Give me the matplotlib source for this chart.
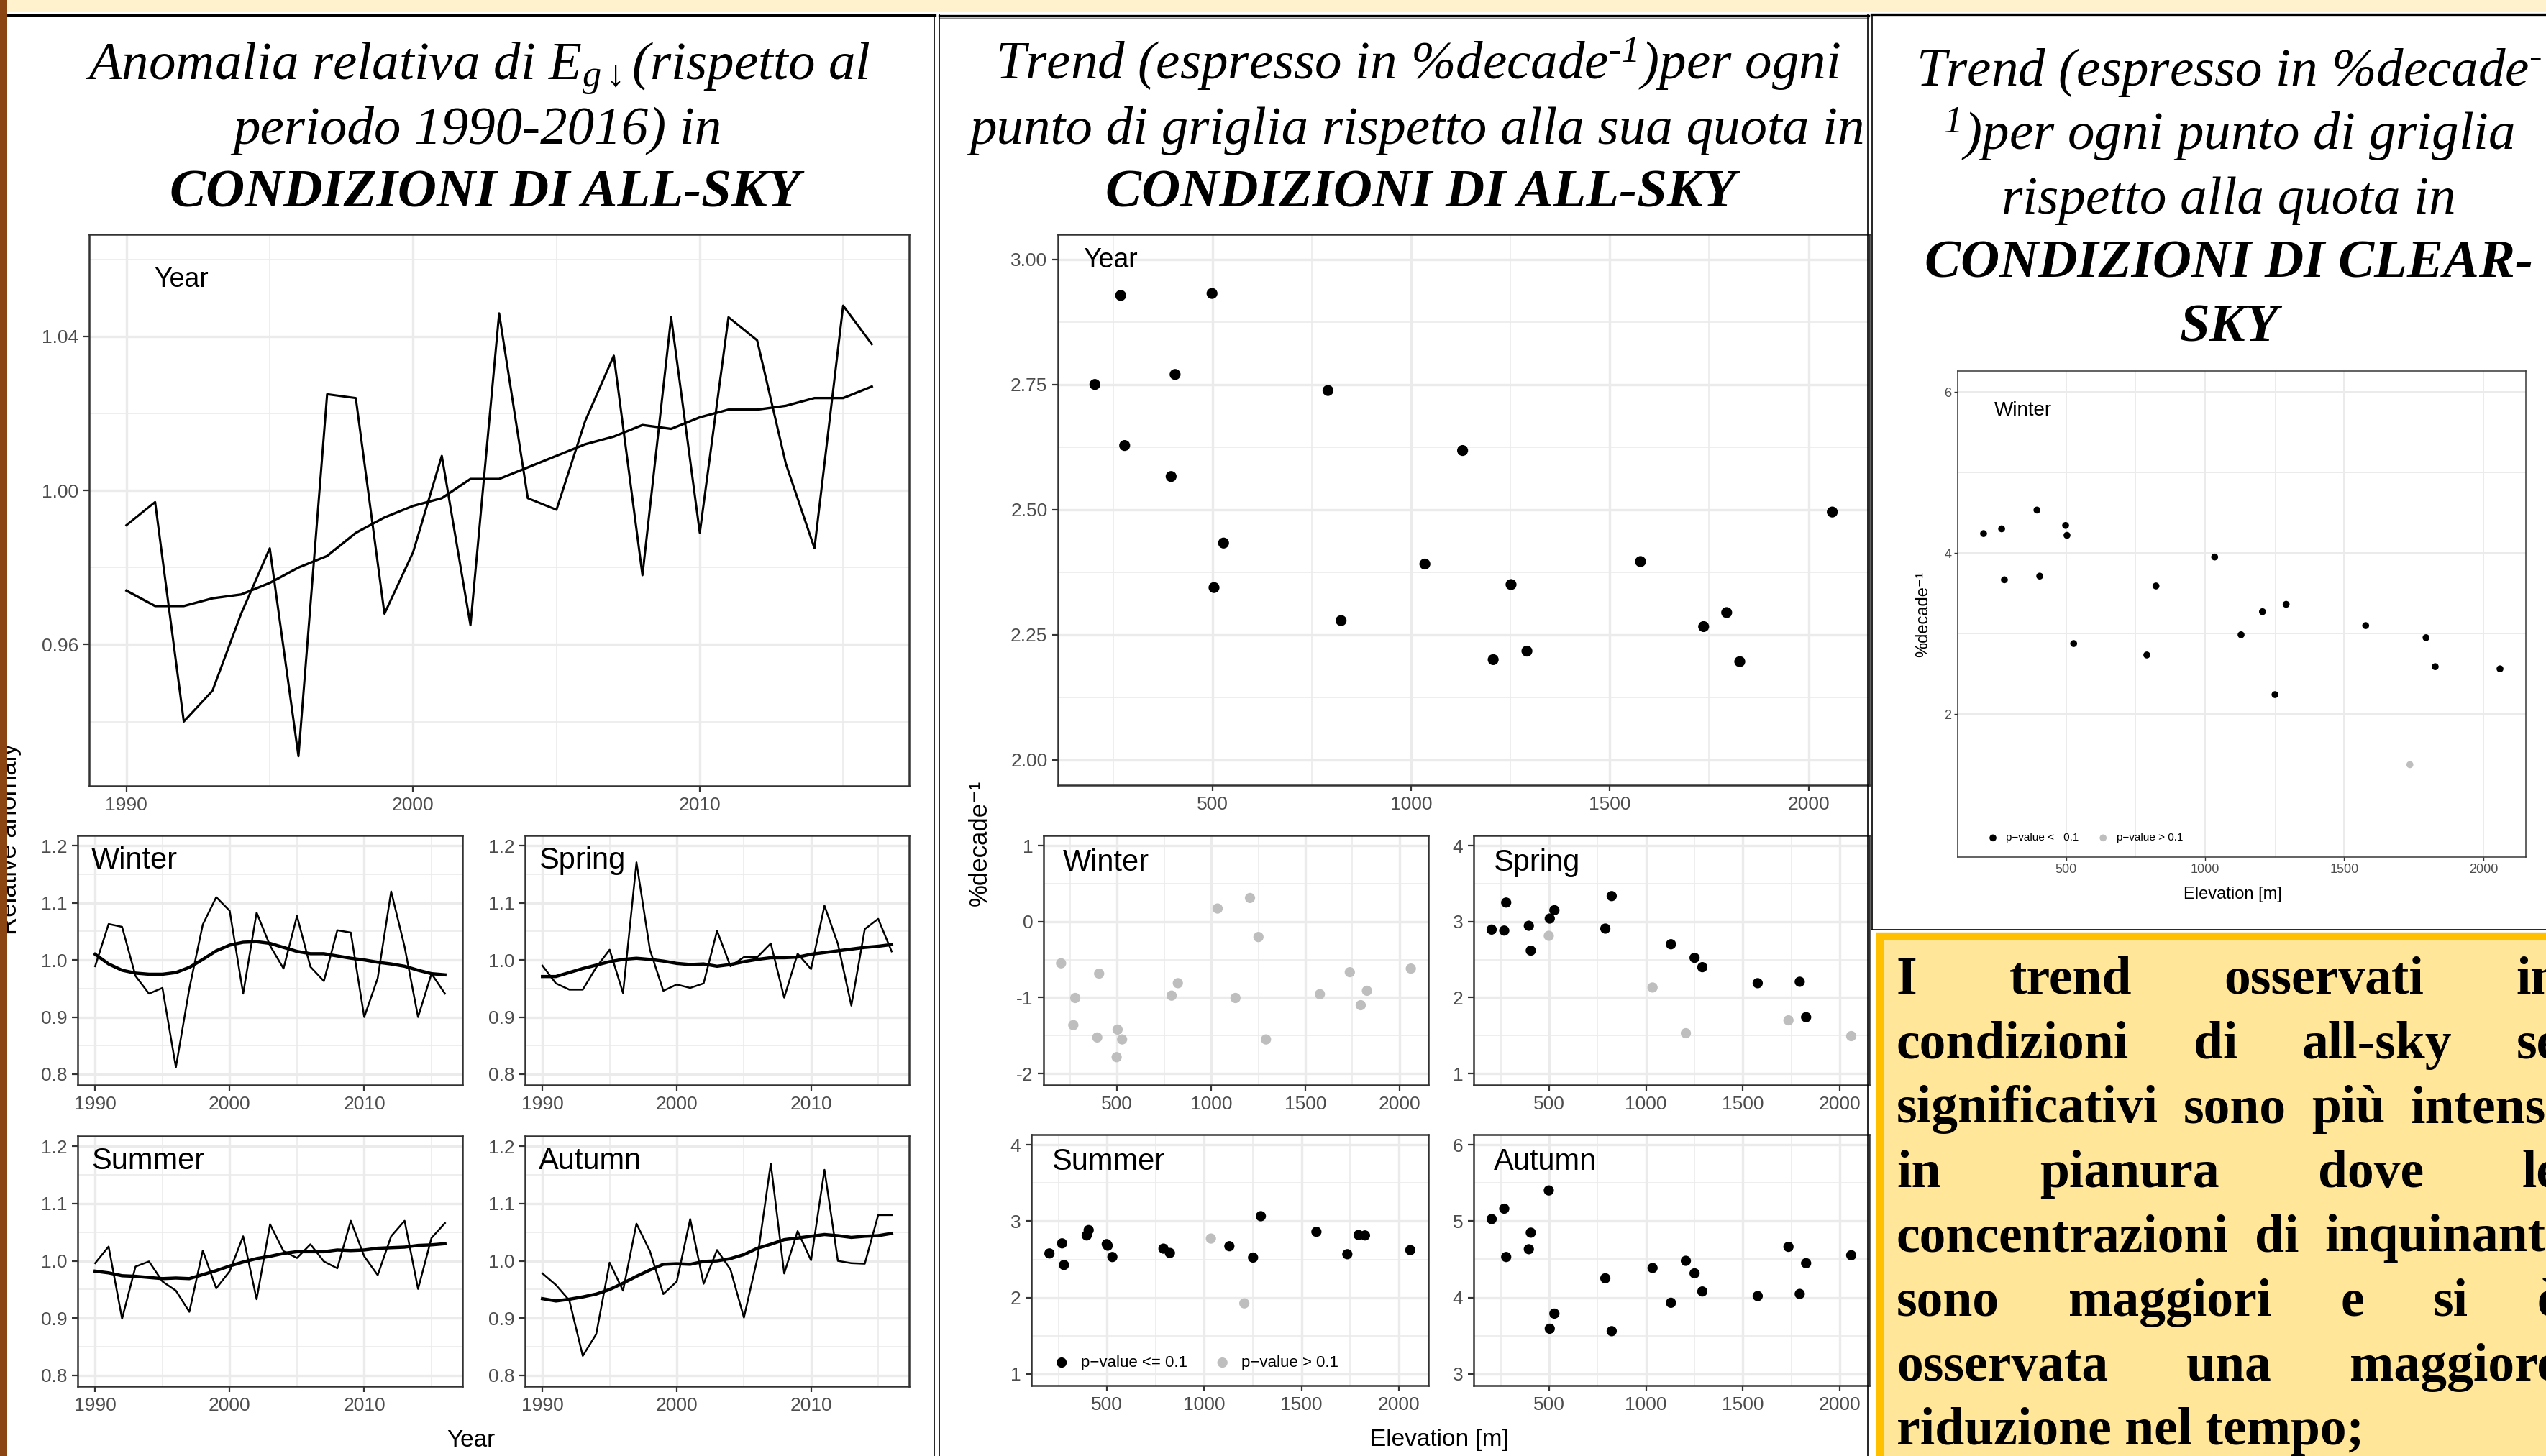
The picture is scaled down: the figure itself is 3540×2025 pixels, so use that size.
import matplotlib
matplotlib.use("Agg")
import matplotlib.pyplot as plt
from matplotlib.ticker import MultipleLocator, FormatStrFormatter
from matplotlib.lines import Line2D
from matplotlib.patches import Rectangle

W, H = 3541, 2025

plt.rcParams['font.family'] = ['Liberation Sans', 'DejaVu Sans']
plt.rcParams['axes.unicode_minus'] = False
plt.rcParams['mathtext.fontset'] = 'custom'
plt.rcParams['mathtext.rm'] = 'Liberation Serif:italic'
plt.rcParams['mathtext.it'] = 'Liberation Serif:italic'
plt.rcParams['mathtext.bf'] = 'Liberation Serif:bold:italic'

# ---- relative anomaly (all-sky), 1990-2016 ----
years = list(range(1990, 2017))
year_raw = [0.991, 0.997, 0.940, 0.948, 0.968, 0.985, 0.931, 1.025, 1.024, 0.968, 0.984, 1.009, 0.965, 1.046,
            0.998, 0.995, 1.018, 1.035, 0.978, 1.045, 0.989, 1.045, 1.039, 1.007, 0.985, 1.048, 1.038]
year_smooth = [0.974, 0.970, 0.970, 0.972, 0.973, 0.976, 0.980, 0.983, 0.989, 0.993, 0.996, 0.998, 1.003, 1.003,
               1.006, 1.009, 1.012, 1.014, 1.017, 1.016, 1.019, 1.021, 1.021, 1.022, 1.024, 1.024, 1.027]
winter_raw = [0.989, 1.063, 1.058, 0.972, 0.941, 0.951, 0.812, 0.950, 1.062, 1.110, 1.086, 0.941, 1.083, 1.025,
              0.985, 1.077, 0.988, 0.963, 1.052, 1.048, 0.900, 0.968, 1.120, 1.023, 0.900, 0.976, 0.941]
winter_smooth = [1.010, 0.993, 0.982, 0.977, 0.975, 0.975, 0.978, 0.987, 1.001, 1.016, 1.026, 1.031, 1.032, 1.029,
                 1.022, 1.015, 1.011, 1.011, 1.007, 1.003, 1.000, 0.996, 0.993, 0.989, 0.982, 0.976, 0.974]
spring_raw = [0.990, 0.959, 0.948, 0.948, 0.987, 1.018, 0.942, 1.171, 1.018, 0.946, 0.957, 0.951, 0.959, 1.051,
              0.989, 1.005, 1.005, 1.029, 0.934, 1.011, 0.984, 1.095, 1.028, 0.920, 1.054, 1.072, 1.015]
spring_smooth = [0.971, 0.971, 0.978, 0.985, 0.991, 0.997, 1.001, 1.003, 1.001, 0.998, 0.994, 0.992, 0.993, 0.989,
                 0.992, 0.997, 1.001, 1.004, 1.004, 1.005, 1.010, 1.013, 1.016, 1.019, 1.022, 1.024, 1.027]
summer_raw = [0.996, 1.025, 0.899, 0.990, 0.999, 0.964, 0.948, 0.911, 1.018, 0.952, 0.982, 1.043, 0.933, 1.064,
              1.017, 1.005, 1.029, 0.999, 0.987, 1.070, 1.008, 0.975, 1.043, 1.070, 0.951, 1.040, 1.066]
summer_smooth = [0.982, 0.979, 0.974, 0.973, 0.971, 0.969, 0.970, 0.969, 0.976, 0.983, 0.991, 0.998, 1.004, 1.008,
                 1.013, 1.016, 1.016, 1.016, 1.019, 1.018, 1.019, 1.022, 1.023, 1.024, 1.027, 1.028, 1.030]
autumn_raw = [0.978, 0.958, 0.931, 0.834, 0.872, 0.997, 0.948, 1.065, 1.017, 0.942, 0.964, 1.073, 0.960, 1.019,
              0.985, 0.901, 1.004, 1.170, 0.978, 1.052, 1.001, 1.159, 1.000, 0.996, 0.995, 1.080, 1.080]
autumn_smooth = [0.934, 0.930, 0.933, 0.937, 0.942, 0.950, 0.961, 0.973, 0.984, 0.994, 0.995, 0.994, 0.999, 1.000,
                 1.004, 1.011, 1.022, 1.029, 1.037, 1.040, 1.043, 1.046, 1.044, 1.041, 1.043, 1.044, 1.048]

# ---- trend vs elevation (%/decade) ----
elev = [203, 268, 278, 395, 405, 498, 503, 527, 790, 823, 1034, 1129, 1206, 1251, 1291, 1577, 1736, 1794, 1827, 2060]
trend_year = [2.750, 2.928, 2.628, 2.566, 2.770, 2.932, 2.344, 2.433, 2.738, 2.278,
              2.391, 2.618, 2.200, 2.350, 2.217, 2.396, 2.266, 2.294, 2.196, 2.495]
sig_year = [1] * 20
trend_winter = [-0.548, -1.362, -1.005, -1.525, -0.684, -1.784, -1.421, -1.551, -0.974, -0.810,
                0.173, -1.005, 0.312, -0.202, -1.551, -0.955, -0.665, -1.100, -0.910, -0.618]
sig_winter = [0] * 20
trend_spring = [2.896, 2.883, 3.252, 2.946, 2.619, 2.814, 3.041, 3.151, 2.909, 3.337,
                2.133, 2.703, 1.531, 2.524, 2.401, 2.190, 1.701, 2.209, 1.742, 1.493]
sig_spring = [1, 1, 1, 1, 1, 0, 1, 1, 1, 1, 0, 1, 0, 1, 1, 1, 0, 1, 1, 0]
trend_summer = [2.578, 2.710, 2.427, 2.814, 2.884, 2.700, 2.680, 2.531, 2.641, 2.584,
                2.773, 2.673, 1.924, 2.524, 3.066, 2.861, 2.568, 2.820, 2.814, 2.622]
sig_summer = [1, 1, 1, 1, 1, 1, 1, 1, 1, 1, 0, 1, 0, 1, 1, 1, 1, 1, 1, 1]
trend_autumn = [5.028, 5.164, 4.531, 4.633, 4.850, 5.403, 3.591, 3.789, 4.252, 3.559,
                4.387, 3.931, 4.481, 4.317, 4.079, 4.019, 4.664, 4.047, 4.450, 4.554]
sig_autumn = [1] * 20
trend_clear_winter = [4.241, 4.300, 3.667, 4.533, 3.713, 4.342, 4.219, 2.875, 2.733, 3.590,
                      3.950, 2.984, 3.271, 2.241, 3.362, 3.098, 1.371, 2.948, 2.588, 2.561]
sig_clear_winter = [1] * 16 + [0] + [1] * 3

sig_labels = ['p\u2212value <= 0.1', 'p\u2212value > 0.1']

fig = plt.figure(figsize=(W / 100, H / 100), dpi=100)


def fx(px):
    return px / W


def fy(py):
    return 1 - py / H


def add_ax(x0, y0, x1, y1):
    return fig.add_axes([fx(x0), fy(y1), (x1 - x0) / W, (y1 - y0) / H])


def style(ax, fs, small=False):
    k = 0.6 if small else 1.0
    for s in ax.spines.values():
        s.set_color('#333333')
        s.set_linewidth(1.8 * k)
    ax.grid(True, which='major', color='#ebebeb', lw=2.4 * k)
    ax.grid(True, which='minor', color='#ebebeb', lw=1.2 * k)
    ax.set_axisbelow(True)
    ax.tick_params(which='major', length=5.5 * k, width=1.6 * k, color='#333333',
                   labelsize=fs, labelcolor='#4d4d4d', pad=5 * k)
    ax.tick_params(which='minor', length=0)


# ---------------- left column: anomaly time series ----------------
ax = add_ax(124, 326, 1264, 1093)
ax.plot(years, year_raw, color='black', lw=2.2)
ax.plot(years, year_smooth, color='black', lw=2.4)
ax.set_xlim(1988.7, 2017.3)
ax.set_ylim(0.9233, 1.0665)
ax.xaxis.set_major_locator(MultipleLocator(10))
ax.xaxis.set_minor_locator(MultipleLocator(5))
ax.yaxis.set_major_locator(MultipleLocator(0.04))
ax.yaxis.set_minor_locator(MultipleLocator(0.02))
ax.yaxis.set_major_formatter(FormatStrFormatter('%.2f'))
style(ax, 19)
ax.text(0.079, 0.918, 'Year', transform=ax.transAxes, fontsize=27, ha='left', va='center')

season_boxes = [(108, 1162, 643, 1509), (730, 1162, 1264, 1509),
                (108, 1580, 643, 1928), (730, 1580, 1264, 1928)]
season_names = ['Winter', 'Spring', 'Summer', 'Autumn']
season_raw = [winter_raw, spring_raw, summer_raw, autumn_raw]
season_smooth = [winter_smooth, spring_smooth, summer_smooth, autumn_smooth]
for box, name, raw, smo in zip(season_boxes, season_names, season_raw, season_smooth):
    ax = add_ax(*box)
    ax.plot(years, raw, color='black', lw=1.8)
    ax.plot(years, smo, color='black', lw=3.2)
    ax.set_xlim(1988.7, 2017.3)
    ax.set_ylim(0.781, 1.218)
    ax.xaxis.set_major_locator(MultipleLocator(10))
    ax.xaxis.set_minor_locator(MultipleLocator(5))
    ax.yaxis.set_major_locator(MultipleLocator(0.1))
    ax.yaxis.set_minor_locator(MultipleLocator(0.05))
    ax.yaxis.set_major_formatter(FormatStrFormatter('%.1f'))
    style(ax, 19)
    ax.text(0.035, 0.90, name, transform=ax.transAxes, fontsize=30, ha='left', va='center')

fig.text(fx(655), fy(2003), 'Year', fontsize=24, ha='center', va='center')
fig.text(fx(14), fy(1167), 'Relative anomaly', fontsize=25, rotation=90, ha='center', va='center')


# ---------------- middle column: trend vs elevation ----------------
def scatter_panel(ax, vals, sig, ms):
    xs_s = [e for e, g in zip(elev, sig) if g]
    ys_s = [v for v, g in zip(vals, sig) if g]
    xs_n = [e for e, g in zip(elev, sig) if not g]
    ys_n = [v for v, g in zip(vals, sig) if not g]
    h1 = ax.scatter(xs_s, ys_s, s=ms, color='black', edgecolors='none', zorder=3)
    h2 = ax.scatter(xs_n, ys_n, s=ms, color='#bebebe', edgecolors='none', zorder=3)
    ax.set_xlim(110, 2153)
    ax.xaxis.set_major_locator(MultipleLocator(500))
    ax.xaxis.set_minor_locator(MultipleLocator(250))
    return h1, h2


ax = add_ax(1471, 326, 2599, 1092)
scatter_panel(ax, trend_year, sig_year, 120)
ax.set_ylim(1.949, 3.050)
ax.yaxis.set_major_locator(MultipleLocator(0.25))
ax.yaxis.set_minor_locator(MultipleLocator(0.125))
ax.yaxis.set_major_formatter(FormatStrFormatter('%.2f'))
style(ax, 19)
ax.text(0.031, 0.953, 'Year', transform=ax.transAxes, fontsize=27, ha='left', va='center')

mid_boxes = [(1451, 1162, 1986, 1509), (2049, 1162, 2599, 1509),
             (1434, 1578, 1986, 1927), (2049, 1578, 2599, 1927)]
mid_vals = [trend_winter, trend_spring, trend_summer, trend_autumn]
mid_sig = [sig_winter, sig_spring, sig_summer, sig_autumn]
mid_ylim = [(-2.151, 1.135), (0.849, 4.135), (0.847, 4.135), (2.846, 6.135)]
for box, name, vals, sig, yl in zip(mid_boxes, season_names, mid_vals, mid_sig, mid_ylim):
    ax = add_ax(*box)
    h1, h2 = scatter_panel(ax, vals, sig, 105)
    ax.set_ylim(*yl)
    ax.yaxis.set_major_locator(MultipleLocator(1))
    ax.yaxis.set_minor_locator(MultipleLocator(0.5))
    ax.yaxis.set_major_formatter(FormatStrFormatter('%d'))
    style(ax, 19)
    ax.text(0.05, 0.89, name, transform=ax.transAxes, fontsize=30, ha='left', va='center')
    if name == 'Summer':
        ax.legend([h1, h2], sig_labels, loc='lower left', bbox_to_anchor=(0.02, 0.035), ncol=2,
                  frameon=False, fontsize=16, handletextpad=0.2, columnspacing=1.2,
                  borderaxespad=0, scatterpoints=1, markerscale=1.0)

fig.text(fx(2001), fy(2003), 'Elevation [m]', fontsize=24, ha='center', va='center')
fig.text(fx(1362), fy(1172), '%decade\u207b\u00b9', fontsize=25, rotation=90, ha='center', va='center')

# ---------------- right column: clear-sky winter ----------------
ax = add_ax(2722, 516, 3512, 1192)
h1, h2 = scatter_panel(ax, trend_clear_winter, sig_clear_winter, 48)
ax.set_ylim(0.223, 6.26)
ax.yaxis.set_major_locator(MultipleLocator(2))
ax.yaxis.set_minor_locator(MultipleLocator(1))
style(ax, 13, small=True)
ax.text(0.065, 0.918, 'Winter', transform=ax.transAxes, fontsize=20, ha='left', va='center')
ax.text(0.4835, -0.077, 'Elevation [m]', transform=ax.transAxes, fontsize=17, ha='center', va='center')
ax.text(-0.06, 0.5, '%decade\u207b\u00b9', transform=ax.transAxes, fontsize=17, rotation=90,
        ha='center', va='center')
ax.legend([h1, h2], sig_labels, loc='lower left', bbox_to_anchor=(0.035, 0.02), ncol=2,
          frameon=False, fontsize=11, handletextpad=0.2, columnspacing=1.2,
          borderaxespad=0, scatterpoints=1)

# ---------------- titles ----------------
tkw = dict(fontsize=54, family='Liberation Serif', style='italic', ha='center', va='baseline')
fig.text(fx(664), fy(110), r'Anomalia relativa di E$_{g\downarrow}$(rispetto al', **tkw)
fig.text(fx(664), fy(200), 'periodo 1990-2016) in', **tkw)
fig.text(fx(674), fy(288), 'CONDIZIONI DI ALL-SKY', weight='bold', **tkw)

fig.text(fx(1971), fy(110), 'Trend (espresso in %decade$^{\u2010 1}$)per ogni', **tkw)
fig.text(fx(1971), fy(200), 'punto di griglia rispetto alla sua quota in', **tkw)
fig.text(fx(1975), fy(288), 'CONDIZIONI DI ALL-SKY', weight='bold', **tkw)

col3_lines = ['Trend (espresso in %decade$^{\u2010}$', r'$^{1}$)per ogni punto di griglia',
              'rispetto alla quota in', 'CONDIZIONI DI CLEAR-', 'SKY']
for i, line in enumerate(col3_lines):
    wgt = 'bold' if i >= 3 else 'normal'
    fig.text(fx(3099), fy(119 + 89 * i), line, weight=wgt, **tkw)

# ---------------- poster decorations ----------------
fig.add_artist(Rectangle((0, fy(16)), 1, 16 / H, transform=fig.transFigure,
                         facecolor='#FFF2CC', edgecolor='none', zorder=0))
fig.add_artist(Rectangle((0, 0), fx(10), 1, transform=fig.transFigure,
                         facecolor='#8B4513', edgecolor='none', zorder=20))


def hline(x0, x1, y, lw, color='black'):
    fig.add_artist(Line2D([fx(x0), fx(x1)], [fy(y), fy(y)], transform=fig.transFigure,
                          color=color, lw=lw, zorder=15))


def vline(x, y0, y1, lw, color='black'):
    fig.add_artist(Line2D([fx(x), fx(x)], [fy(y0), fy(y1)], transform=fig.transFigure,
                          color=color, lw=lw, zorder=15))


hline(10, 1300, 21, 2.4)
hline(1306, 2598, 22, 2.4)
hline(1306, 2598, 25, 1.0, '#888888')
hline(2602, W, 20, 2.4)
vline(1299, 20, H, 1.2)
vline(1306, 20, H, 1.2)
vline(2597, 20, H, 1.2)
vline(2603, 20, 1293, 1.2)
hline(2603, W, 1293, 1.2)

# yellow conclusion box
fig.add_artist(Rectangle((fx(2614), fy(H + 40)), (W + 40 - 2614) / W, (H + 40 - 1302) / H,
                         transform=fig.transFigure, facecolor='#FFE699', edgecolor='#FFC000',
                         lw=7.5, zorder=12))

para = ['I trend osservati in',
        'condizioni di all-sky se',
        'significativi sono più intensi',
        'in pianura dove le',
        'concentrazioni di inquinanti',
        'sono maggiori e si è',
        'osservata una maggiore',
        'riduzione nel tempo;']
pkw = dict(fontsize=53, family='Liberation Serif', weight='bold', va='baseline', ha='left', zorder=16)
renderer = fig.canvas.get_renderer()
x_left, x_right = 2637, 3560
for i, line in enumerate(para):
    yb = 1382 + 89.6 * i
    if i == len(para) - 1:
        fig.text(fx(x_left), fy(yb), line, **pkw)
        continue
    words = line.split()
    texts = [fig.text(0, fy(yb), w, **pkw) for w in words]
    widths = [t.get_window_extent(renderer).width for t in texts]
    gap = (x_right - x_left - sum(widths)) / (len(words) - 1)
    x = x_left
    for t, w in zip(texts, widths):
        t.set_x(fx(x))
        x += w + gap

fig.savefig('out.png', dpi=100)
